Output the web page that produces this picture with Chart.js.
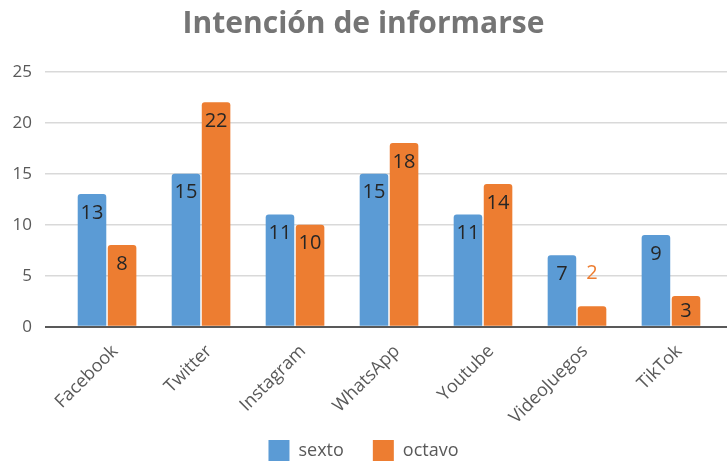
<!DOCTYPE html>
<html>
<head>
<meta charset="utf-8">
<script src="https://cdn.jsdelivr.net/npm/chart.js@4.4.1/dist/chart.umd.min.js"></script>
<style>
  html, body { margin: 0; padding: 0; background: #fff; }
  #wrap { width: 727px; height: 464px; position: relative; }
</style>
</head>
<body>
<div id="wrap"><canvas id="c" width="727" height="464"></canvas></div>
<script>
const categories = ["Facebook", "Twitter", "Instagram", "WhatsApp", "Youtube", "VideoJuegos", "TikTok"];
const sexto = [13, 15, 11, 15, 11, 7, 9];
const octavo = [8, 22, 10, 18, 14, 2, 3];
const yTicks = [0, 5, 10, 15, 20, 25];
const seriesNames = ["sexto", "octavo"];

const FONT = "'Open Sans', 'DejaVu Sans', sans-serif";
const BLUE = "#5B9BD5";
const ORANGE = "#ED7D31";
const TEXT = "#595959";

const labelPlugin = {
  id: 'barLabels',
  afterLayout(chart) {
    // let rotated category labels extend down to the legend without clipping
    chart.scales.x.bottom = chart.height;
  },
  afterDatasetsDraw(chart) {
    const ctx = chart.ctx;
    ctx.save();
    ctx.font = "20px " + FONT;
    ctx.textAlign = 'center';
    ctx.textBaseline = 'middle';
    chart.data.datasets.forEach((ds, di) => {
      const meta = chart.getDatasetMeta(di);
      meta.data.forEach((el, i) => {
        const h = el.base - el.y;
        const txt = String(ds.data[i].y);
        if (h >= 26) {
          ctx.fillStyle = '#262626';
          ctx.fillText(txt, el.x, el.y + Math.min(19, h / 2));
        } else {
          ctx.fillStyle = ds.backgroundColor;
          ctx.fillText(txt, el.x, el.y - 33);
        }
      });
    });
    ctx.restore();
  }
};

const toPoints = arr => arr.map((v, i) => ({ x: i, y: v }));

new Chart(document.getElementById('c'), {
  type: 'bar',
  data: {
    datasets: [
      { label: seriesNames[0], data: toPoints(sexto), backgroundColor: BLUE, borderRadius: 3, borderSkipped: 'bottom',
        categoryPercentage: 0.64, barPercentage: 0.95 },
      { label: seriesNames[1], data: toPoints(octavo), backgroundColor: ORANGE, borderRadius: 3, borderSkipped: 'bottom',
        categoryPercentage: 0.64, barPercentage: 0.95 }
    ]
  },
  options: {
    responsive: false,
    animation: false,
    events: [],
    layout: { padding: { top: 0, left: 0, right: 0, bottom: -7 } },
    scales: {
      x: {
        type: 'linear',
        offset: false,
        min: -0.66,
        max: 6.596,
        grid: { display: false, offset: false },
        border: { display: false },
        afterBuildTicks: s => { s.ticks = categories.map((c, i) => ({ value: i })); },
        afterFit: s => { s.height = 84.3; s.paddingLeft = 0; s.paddingRight = 0; },
        ticks: {
          autoSkip: false,
          minRotation: 45,
          maxRotation: 45,
          padding: 6,
          labelOffset: 8,
          color: TEXT,
          font: { family: FONT, size: 18 },
          callback: v => categories[v] !== undefined ? categories[v] : ''
        }
      },
      y: {
        min: 0,
        max: 25,
        afterBuildTicks: s => { s.ticks = yTicks.map(v => ({ value: v })); },
        afterFit: s => { s.width = 45; },
        grid: {
          drawTicks: false,
          color: c => c.tick.value === 0 ? '#595959' : '#D9D9D9',
          lineWidth: c => c.tick.value === 0 ? 2 : 1.5
        },
        border: { display: false },
        ticks: { padding: 13, color: TEXT, font: { family: FONT, size: 17 } }
      }
    },
    plugins: {
      title: {
        display: true,
        text: 'Intención de informarse',
        color: '#757575',
        font: { family: FONT, size: 30, weight: 'bold' },
        padding: { top: 6, bottom: 29.7 }
      },
      legend: {
        position: 'bottom',
        labels: {
          boxWidth: 21,
          boxHeight: 21,
          padding: 29,
          color: TEXT,
          font: { family: FONT, size: 18 }
        }
      },
      tooltip: { enabled: false }
    }
  },
  plugins: [labelPlugin]
});
</script>
</body>
</html>
